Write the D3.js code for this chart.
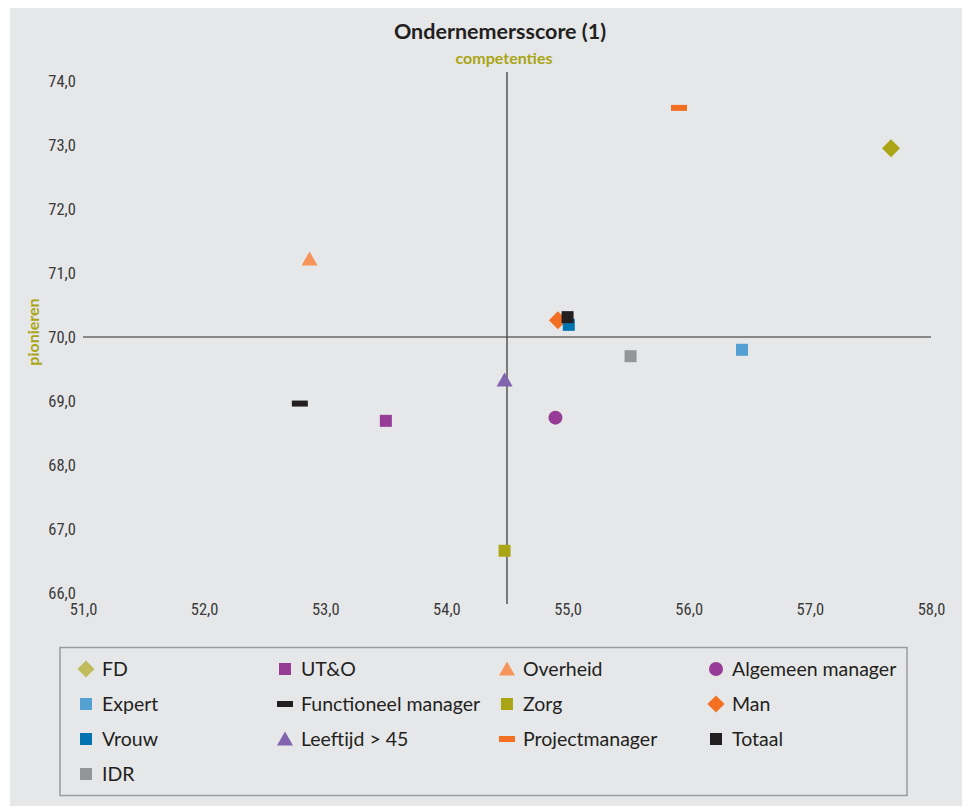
<!DOCTYPE html>
<html>
<head>
<meta charset="utf-8">
<script src="https://cdn.jsdelivr.net/npm/d3@7"></script>
<style>
  html, body { margin: 0; padding: 0; background: #ffffff; }
  svg { display: block; }
</style>
</head>
<body>
<svg id="chart" width="973" height="810"></svg>
<script>
// Groups, scores and marker styles
const groups = ["FD", "UT&O", "Overheid", "Algemeen manager", "Expert", "Functioneel manager",
                "Zorg", "Man", "Vrouw", "Leeftijd > 45", "Projectmanager", "Totaal", "IDR"];
const competenties = [57.67, 53.50, 52.87, 54.90, 56.44, 52.79, 54.48, 54.92, 55.01, 54.48, 55.92, 55.00, 55.52];
const pionieren    = [72.95, 68.69, 71.22, 68.74, 69.80, 68.96, 66.66, 70.26, 70.19, 69.33, 73.58, 70.31, 69.70];
const shapes  = ["diamond", "square", "triangle", "circle", "square", "dash",
                 "square", "diamond", "square", "triangle", "dash", "square", "square"];
const colors  = ["#a9a514", "#963c96", "#f7945a", "#963c96", "#55a0d2", "#231f20",
                 "#a9a514", "#f36f21", "#0073b0", "#8064ae", "#f36f21", "#231f20", "#939598"];
const legendColors = colors.slice();
legendColors[0] = "#c0bc5e";

const xTicks = [51, 52, 53, 54, 55, 56, 57, 58];
const yTicks = [66, 67, 68, 69, 70, 71, 72, 73, 74];
const xCross = 54.5;   // where the vertical axis crosses
const yCross = 70;     // where the horizontal axis crosses

const svg = d3.select("#chart");
const fmt = v => d3.format(".1f")(v).replace(".", ",");
const textFont = "Lato, 'Open Sans', sans-serif";

// panel background
svg.append("rect").attr("x", 10).attr("y", 8).attr("width", 952).attr("height", 798)
   .attr("fill", "#e6e7e9");

const x = d3.scaleLinear().domain([51, 58]).range([83, 931]);
const y = d3.scaleLinear().domain([66, 74]).range([593, 81]);

// title and axis names
svg.append("text").attr("x", 500).attr("y", 39).attr("text-anchor", "middle")
   .attr("font-family", textFont).attr("font-weight", 700)
   .attr("font-size", 21.5).attr("fill", "#231f20").text("Ondernemersscore (1)");
svg.append("text").attr("x", x(xCross) - 3).attr("y", 64).attr("text-anchor", "middle")
   .attr("font-family", textFont).attr("font-weight", 700)
   .attr("font-size", 16).attr("fill", "#a9a514").text("competenties");
svg.append("text").attr("transform", `translate(39,${y(yCross) - 5}) rotate(-90)`)
   .attr("text-anchor", "middle")
   .attr("font-family", textFont).attr("font-weight", 700)
   .attr("font-size", 16).attr("fill", "#a9a514").text("pionieren");

// tick labels through d3 axes (no tick lines, no domain)
const tickFont = "'Liberation Sans Narrow', 'Roboto Condensed', 'DejaVu Sans Condensed', sans-serif";
const gy = svg.append("g").attr("transform", "translate(76,0)")
   .call(d3.axisLeft(y).tickValues(yTicks).tickFormat(fmt).tickSize(0).tickPadding(0));
gy.select(".domain").remove();
gy.selectAll("text").attr("font-family", tickFont).attr("font-size", 16.5).attr("fill", "#3a3a3a");

const gx = svg.append("g").attr("transform", "translate(0,603)")
   .call(d3.axisBottom(x).tickValues(xTicks).tickFormat(fmt).tickSize(0).tickPadding(0));
gx.select(".domain").remove();
gx.selectAll("text").attr("font-family", tickFont).attr("font-size", 16.5).attr("fill", "#3a3a3a");

// crossing axis lines
svg.append("line").attr("x1", x(51)).attr("x2", x(58)).attr("y1", y(yCross)).attr("y2", y(yCross))
   .attr("stroke", "#2b2b2b").attr("stroke-width", 1.2);
svg.append("line").attr("x1", x(xCross)).attr("x2", x(xCross)).attr("y1", y(74) - 9).attr("y2", y(66) + 11)
   .attr("stroke", "#4a4a4a").attr("stroke-width", 1.4);

// marker drawing
function marker(sel, shape, color, scale) {
  const s = scale || 1;
  if (shape === "square") {
    sel.append("rect").attr("x", -6 * s).attr("y", -6 * s).attr("width", 12 * s).attr("height", 12 * s).attr("fill", color);
  } else if (shape === "diamond") {
    const r = 9 * s;
    sel.append("path").attr("d", `M0,${-r}L${r},0L0,${r}L${-r},0Z`).attr("fill", color);
  } else if (shape === "triangle") {
    sel.append("path").attr("d", `M0,${-7.5 * s}L${8 * s},${6.5 * s}L${-8 * s},${6.5 * s}Z`).attr("fill", color);
  } else if (shape === "circle") {
    sel.append("circle").attr("r", 7 * s).attr("fill", color);
  } else if (shape === "dash") {
    sel.append("rect").attr("x", -8 * s).attr("y", -3 * s).attr("width", 16 * s).attr("height", 6 * s).attr("fill", color);
  }
}

// points, drawn in legend order
groups.forEach((g, i) => {
  const m = svg.append("g").attr("transform", `translate(${x(competenties[i])},${y(pionieren[i])})`);
  marker(m, shapes[i], colors[i]);
});

// legend
svg.append("rect").attr("x", 60).attr("y", 647.5).attr("width", 847).attr("height", 148)
   .attr("fill", "none").attr("stroke", "#9b9b9b").attr("stroke-width", 1.5);
const colX = [86, 285, 507, 716];
const rowY = [669, 704, 739, 774];
groups.forEach((g, i) => {
  const cx = colX[i % 4], cy = rowY[Math.floor(i / 4)];
  const m = svg.append("g").attr("transform", `translate(${cx},${cy})`);
  const sc = shapes[i] === "diamond" ? 0.95 : 1;
  marker(m, shapes[i], legendColors[i], sc);
  svg.append("text").attr("x", cx + 16).attr("y", cy).attr("dy", "0.36em")
     .attr("font-family", textFont).attr("font-size", 19.5)
     .attr("fill", "#231f20").text(g);
});
</script>
</body>
</html>
